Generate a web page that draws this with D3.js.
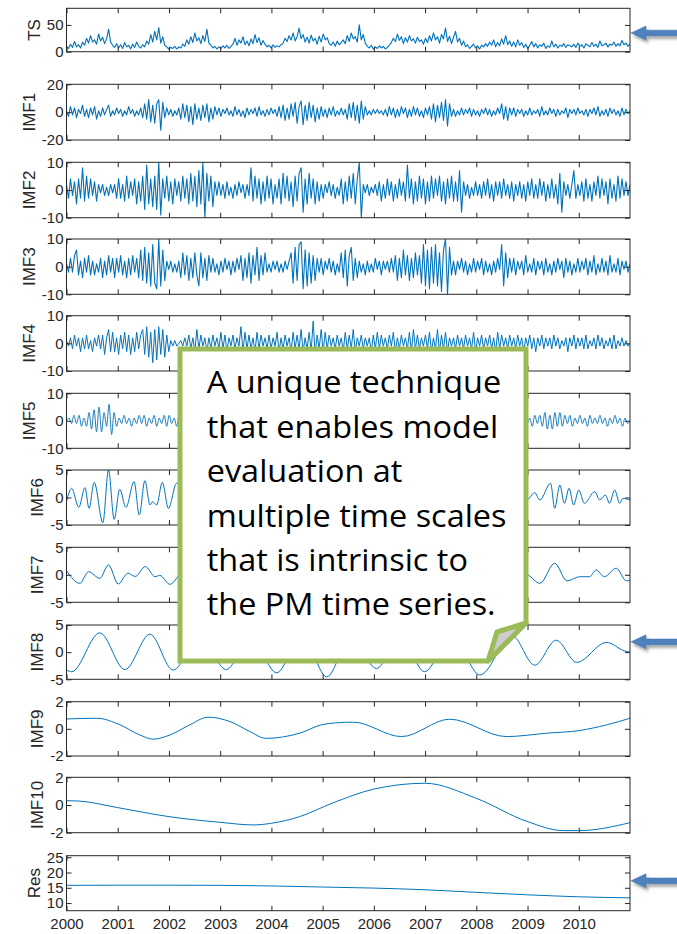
<!DOCTYPE html>
<html>
<head>
<meta charset="utf-8">
<script src="https://cdn.jsdelivr.net/npm/d3@7"></script>
<style>
  body { margin: 0; background: #fff; }
  svg { display: block; }
  .panel-label { font-family: "Liberation Sans", Arial, sans-serif; font-size: 17px; fill: #262626; }
  .tick text { font-family: "Liberation Sans", Arial, sans-serif; font-size: 15px; fill: #262626; }
  .frame { fill: none; stroke: #262626; stroke-width: 1; }
  .series { fill: none; stroke: #0072bd; stroke-linejoin: round; }
  .callout-text { font-family: "Open Sans", Lato, sans-serif; font-weight: 400; font-size: 31px; fill: #000; }
</style>
</head>
<body>
<svg width="677" height="934"></svg>
<script>
// time axis
var xDomain = [2000, 2011];
var yearTicks = [2000, 2001, 2002, 2003, 2004, 2005, 2006, 2007, 2008, 2009, 2010];

// y ranges and tick labels of each panel
var tsDomain = [0, 81], tsTicks = [0, 50];
var imf1Domain = [-20, 20], imf1Ticks = [-20, 0, 20];
var imf2Domain = [-10, 10], imf2Ticks = [-10, 0, 10];
var imf3Domain = [-10, 10], imf3Ticks = [-10, 0, 10];
var imf4Domain = [-10, 10], imf4Ticks = [-10, 0, 10];
var imf5Domain = [-10, 10], imf5Ticks = [-10, 0, 10];
var imf6Domain = [-5, 5], imf6Ticks = [-5, 0, 5];
var imf7Domain = [-5, 5], imf7Ticks = [-5, 0, 5];
var imf8Domain = [-5, 5], imf8Ticks = [-5, 0, 5];
var imf9Domain = [-2, 2], imf9Ticks = [-2, 0, 2];
var imf10Domain = [-2, 2], imf10Ticks = [-2, 0, 2];
var resDomain = [7.5, 25.5], resTicks = [10, 15, 20, 25];

var tsValues = [
  10,6,14,8,19,9,13,7,18,12,25,16,30,18,22,14,33,20,27,15,
  24,42,18,12,8,15,7,13,6,17,9,12,5,14,8,18,10,7,13,9,
  20,14,32,18,38,22,45,16,28,12,9,5,8,6,10,5,9,7,14,10,
  22,14,28,17,35,20,26,15,30,19,42,16,12,7,10,5,9,6,11,7,
  12,6,10,14,25,12,22,16,28,13,20,11,24,15,32,17,26,12,21,14,
  9,12,7,13,8,11,9,13,16,25,19,30,22,35,20,28,44,24,32,18,
  27,16,31,20,25,14,29,18,33,22,26,15,12,18,10,20,13,17,22,15,
  30,19,35,24,28,18,50,22,32,16,10,7,12,5,9,6,11,7,10,5,
  8,12,17,25,19,33,21,28,15,26,18,30,20,24,16,27,19,22,14,25,
  17,30,20,35,22,28,16,32,24,44,19,29,15,27,38,18,25,12,20,9,
  13,6,10,14,7,11,5,12,9,15,10,18,12,22,9,17,11,24,14,30,
  13,20,10,18,9,22,12,17,8,14,6,12,19,9,15,7,13,10,16,6,
  11,8,20,9,14,7,12,10,15,8,13,11,9,14,8,16,10,13,7,15,
  12,9,17,10,14,8,20,11,13,16,9,14,12,18,10,15,11,21,13,16,
  10,14
];
var imf1Values = [
  1,-3,4,-2,3,-4,2,-1,5,-3,2,-4,3,-2,4,-5,1,-3,3,-2,
  2,5,-3,1,-2,3,-1,2,-3,1,-2,4,-1,2,-3,1,-2,3,-4,6,
  -5,9,-7,5,-8,6,9,-13,7,-4,3,-2,2,-3,1,-2,3,-5,6,-4,
  5,-7,4,-9,6,-5,3,-6,5,-4,6,-7,3,-5,4,-2,3,-3,2,-1,
  3,-2,1,-3,4,-2,2,-3,1,-4,3,-2,2,-1,3,-3,4,-2,1,-3,
  2,-2,3,-1,2,-3,4,-4,5,-6,3,-5,6,-3,7,-8,4,8,-9,5,
  -6,7,-4,5,-7,3,-5,4,-3,2,-4,3,-2,4,-3,1,-2,3,-2,2,
  -5,6,-4,7,-6,5,-8,8,-5,4,-2,1,-2,2,-1,2,-1,1,-2,2,
  -3,4,-2,3,-4,2,-3,4,-1,3,-4,2,-3,4,-2,3,-3,1,-4,3,
  -2,4,-5,6,-7,5,-4,7,-6,9,-10,6,-3,2,-3,1,-2,3,-2,2,
  -1,3,-3,2,-2,1,-3,2,-1,3,-2,2,-3,1,-2,3,-1,6,-5,4,
  -6,3,-2,3,-3,2,-1,2,-3,1,-2,3,-2,1,-1,2,-3,4,-2,1,
  -2,3,-1,2,-3,2,-2,1,-1,3,-4,2,-1,2,-2,3,-1,1,-2,2,
  -3,2,-1,3,-2,4,-3,1,-2,2,-3,3,-1,2,-2,1,-3,3,-2,2,
  -1,1
];
var imf2Values = [
  2,-3,4,-2,3,-5,4,-3,8,-4,5,-3,4,-2,3,-4,2,-1,2,-2,
  1,-2,2,-1,2,-3,4,-3,2,-4,5,-3,3,-2,4,-5,3,-4,5,-7,
  9,-5,4,-6,5,-7,10,-9,4,-3,5,-4,3,-5,4,-2,3,-4,5,-3,
  4,-5,6,-4,5,-6,7,-5,10,-10,6,-4,5,-6,3,-2,3,-2,2,-3,
  3,-2,1,-3,2,-2,3,-1,2,-3,2,-2,8,-4,5,-3,4,-5,3,-4,
  5,-3,4,-5,2,-3,4,-5,6,-3,5,-4,3,-6,5,-4,6,8,-8,4,
  -5,6,-3,4,-5,3,-4,2,-3,2,-1,3,-2,2,-3,1,-2,4,-5,3,
  -4,5,-3,6,-5,4,10,-10,2,-1,2,-2,1,-1,2,-2,3,-4,2,-3,
  4,-2,3,-4,2,-3,4,-2,3,-4,9,-3,4,-5,3,-4,5,-3,4,-5,
  3,-4,5,-3,4,-2,5,-4,3,-5,4,-3,5,-4,3,-4,7,-8,3,-2,
  2,-3,1,-2,3,-2,2,-3,3,-2,4,-3,2,-4,3,-2,3,-3,4,-2,
  2,-3,3,-4,2,-2,3,-3,2,-4,3,-2,4,-3,2,-3,4,-2,3,-4,
  2,-3,4,-3,2,-5,6,-8,3,-2,2,-3,2,7,-3,2,-2,3,-4,4,
  -3,2,-4,3,-2,5,-3,4,-2,3,-5,4,-3,2,-4,5,-3,4,-2,3,
  -2,2
];
var imf3Values = [
  1,-2,3,-2,4,6,-3,2,-4,3,-2,4,-3,2,-3,1,-2,3,-4,2,
  -3,4,-2,3,-4,3,-2,4,-3,2,-4,3,-3,4,-2,3,-4,6,-5,7,
  -6,5,-7,8,-6,-8,10,-7,6,-5,2,-1,2,-2,1,-2,2,-4,5,-3,
  4,-5,3,-4,5,-3,-7,5,-4,3,-5,4,-2,3,-2,1,-3,2,-2,3,
  -1,2,-3,2,-2,3,-1,4,-5,3,-4,5,-6,4,-3,7,-5,4,-3,5,
  -2,1,-2,2,-1,2,-2,1,-2,2,-1,2,5,-6,7,-5,8,9,-8,6,
  -7,5,-6,4,-5,3,-2,3,-3,2,-1,3,-2,2,-3,1,-2,5,-4,6,
  -7,4,7,-5,3,-4,2,-2,1,-3,2,-2,1,-2,3,-1,2,-3,2,-1,
  2,-2,3,-2,4,-5,3,-4,6,-3,4,-5,3,-4,5,-3,4,-6,8,-7,
  6,-8,7,-6,8,-7,5,-9,6,10,-10,7,-3,2,-3,2,-1,3,-2,2,
  -3,1,-2,3,-2,2,-1,3,-3,2,-2,1,-3,2,-2,3,-1,8,-7,5,
  -4,3,-2,3,-3,2,-1,2,-3,4,-2,1,-2,3,-3,2,-1,2,-3,3,
  -2,1,-3,2,-2,3,-1,2,-4,3,-2,2,-3,1,-2,3,-2,2,-1,3,
  -3,2,-2,4,-3,1,-2,3,-2,2,-3,4,-2,1,-2,3,-3,2,-1,2,
  -2,1
];
var imf4Values = [
  1,-1,2,-2,3,-1,2,-3,2,-2,3,-2,1,-3,2,-1,3,-2,3,-4,
  2,5,-3,4,-3,2,-4,3,-2,4,-3,3,-4,2,-3,4,-2,3,5,-4,
  6,-5,4,-7,5,-6,6,-4,5,-5,3,-3,1,-1,1,-1,0,1,-1,2,
  -1,3,-2,2,-3,5,-2,3,-1,2,-3,2,-2,3,-1,2,-2,4,-2,3,
  -3,2,-1,3,-2,2,-1,6,-3,4,-2,3,-2,2,-3,4,-2,3,-1,2,
  -2,3,-2,2,-1,4,-3,2,-2,3,-1,2,-3,4,-2,3,-2,5,-3,2,
  -2,4,-3,8,-4,3,-2,5,-3,4,-2,3,-1,2,-2,3,-1,2,-3,4,
  -2,3,-2,5,-3,2,-1,3,-2,2,-1,2,-3,3,-2,4,-2,3,-1,2,
  -2,3,-1,4,-3,2,-2,3,-1,2,-2,4,-3,5,-2,3,-2,2,-1,3,
  -2,4,-3,2,-2,5,-3,3,-2,4,-3,2,-1,2,-2,3,-1,2,-2,3,
  -1,2,-2,4,-3,2,-1,3,-2,2,-1,3,-2,2,-3,4,-2,3,-1,2,
  -2,3,-1,2,-2,3,-1,2,-3,2,-1,3,-2,2,-3,2,-1,3,-2,2,
  -1,2,-2,3,-1,2,-2,1,-1,2,-3,2,-1,3,-2,2,-1,2,-2,3,
  -2,1,-1,2,-2,3,-1,2,-2,1,-1,2,-2,3,-2,1,-1,2,-1,1,
  -1,0
];
var imf5Values = [
  0,1,-1,2,-1,2,-2,1,-2,3,-3,4,-4,5,-4,3,-2,6,-5,3,
  -2,1,-1,2,-1,1,-2,1,-1,2,-1,2,-2,1,-1,2,-2,1,-1,2,
  -2,2,-1,1,-2,2,-1,2,-2,1,-1,2,-2,1,-2,2,-1,2,-2,1,
  -1,2,-2,1,-1,2,-2,3,-2,1,-1,2,-2,1,-2,2,-1,2,-2,1,
  -1,2,-2,3,-2,2,-1,2,-2,1,-1,2,-2,1,-2,2,-1,2,-2,1,
  -1,2,-2,1,-1,2,-2,3,-2,1,-1,2,-2,1,-2,2,-1,2,-2,1,
  -1,2,-2,1,-1,2,-2,3,-2,1,-1,2,-2,1,-2,2,-1,2,-2,1,
  -1,2,-2,1,-1,2,-2,3,-2,1,-1,2,-2,1,-2,2,-1,2,-2,1,
  -1,2,-2,1,-1,2,-2,3,-2,1,-1,2,-2,1,-2,2,-1,2,-2,1,
  -1,1,-1,2,-1,1,-2,2,-1,2,-2,3,-3,2,-3,3,-2,3,-2,2,
  -1,2,-2,1,-1,2,-1,1,-2,2,-1,1,-1,2,-1,1,-2,1,-1,2,
  -1,1,-2,1,-1,0
];

// turning points (year, value) of the slower modes
var imf6Years = [2000.00,2000.10,2000.24,2000.36,2000.44,2000.54,2000.71,2000.82,2000.93,2001.04,2001.16,2001.32,2001.42,2001.53,2001.63,2001.68,2001.76,2001.87,2001.99,
  2002.15,2002.4,2002.65,2002.9,2003.15,2003.4,2003.65,2003.9,2004.15,2004.4,2004.65,2004.9,2005.15,2005.4,2005.65,2005.9,2006.15,2006.4,2006.65,2006.9,2007.15,2007.4,2007.65,2007.9,2008.15,2008.4,2008.65,2008.9,
  2009.03,2009.14,2009.24,2009.45,2009.53,2009.63,2009.72,2009.81,2009.90,2010.00,2010.11,2010.31,2010.41,2010.52,2010.60,2010.70,2010.80,2010.86,2011.00];
var imf6Values = [-0.76,1.67,-1.79,1.79,-1.97,2.76,-4.58,5.0,-3.97,1.5,-1.8,2.88,-3.18,3.06,-1.36,-0.76,-1.36,2.76,-1.97,
  2.6,-2.0,1.8,-2.2,2.4,-1.6,1.9,-2.3,2.1,-1.8,2.5,-2.0,1.7,-2.4,2.2,-1.9,2.6,-2.1,1.8,-2.5,2.3,-1.7,2.0,-2.2,1.9,-1.8,2.1,-1.2,
  -0.15,0.87,-0.45,2.58,-1.97,2.27,-1.06,1.67,-1.36,1.36,-1.06,1.06,-0.45,0.45,-1.06,1.36,-1.06,-0.15,-0.45];

var imf7Years = [2000.00,2000.26,2000.43,2000.65,2000.82,2001.01,2001.2,2001.34,2001.54,2001.73,2001.82,2002.02,
  2002.3,2002.6,2002.9,2003.2,2003.5,2003.8,2004.1,2004.4,2004.7,2005.0,2005.3,2005.6,2005.9,2006.2,2006.5,2006.8,2007.1,2007.4,2007.7,2008.0,2008.3,2008.6,2008.85,
  2009.01,2009.24,2009.53,2009.77,2010.02,2010.21,2010.34,2010.5,2010.73,2010.93,2011.0];
var imf7Values = [0.75,-1.55,0.57,-0.64,1.78,-1.67,0.3,-0.3,1.5,-0.35,-0.1,-1.73,
  0.8,-1.2,1.0,-1.4,0.9,-1.1,1.3,-0.9,1.0,-1.3,0.8,-1.0,1.2,-1.1,0.9,-1.2,1.1,-0.9,1.0,-1.3,0.9,-1.0,0.6,
  0,-1.55,2.1,-1.1,-0.35,-0.35,0.87,-0.35,1.2,-1.1,-1.0];

var imf8Years = [2000.0,2000.10,2000.65,2001.14,2001.63,2002.08,2002.6,2003.12,2003.6,2004.10,2004.6,2005.08,2005.56,2006.05,2006.52,2006.99,2007.52,2008.07,2008.7,2009.14,2009.56,2009.96,2010.54,2010.9,2011.0];
var imf8Values = [-3.3,-3.6,3.55,-3.2,3.3,-3.3,3.0,-3.2,3.0,-3.8,3.2,-4.55,3.0,-3.0,3.1,-3.6,3.2,-4.2,3.0,-2.4,2.2,-1.9,1.8,0.2,0.0];

var imf9Years = [2000.0,2000.6,2001.04,2001.43,2001.69,2002.02,2002.41,2002.76,2003.19,2003.58,2003.89,2004.55,2004.98,2005.25,2005.6,2006.54,2007.48,2008.59,2009.37,2010.02,2010.54,2011.0];
var imf9Values = [0.73,0.78,0.3,-0.45,-0.76,-0.45,0.3,0.86,0.54,-0.2,-0.7,-0.32,0.3,0.44,0.49,-0.57,0.71,-0.57,-0.32,-0.12,0.29,0.78];

var imf10Years = [2000.0,2000.26,2001.0,2002.0,2003.0,2003.65,2004.0,2004.55,2005.2,2006.0,2007.0,2008.0,2009.0,2009.7,2010.0,2011.0];
var imf10Values = [0.31,0.28,-0.19,-0.84,-1.25,-1.44,-1.32,-0.84,0.15,1.15,1.57,0.48,-1.2,-1.85,-1.85,-1.28];

var resYears = [2000,2001,2002,2003,2004,2005,2006,2007,2008,2009,2010,2011];
var resValues = [15.8,15.85,15.85,15.8,15.6,15.25,14.9,14.35,13.5,12.7,12.05,11.7];

var calloutLines = ['A unique technique', 'that enables model', 'evaluation at',
  'multiple time scales', 'that is intrinsic to', 'the PM time series.'];

// layout
var plotLeft = 66.5;
var plotRight = 630;
var panelTops = [8.3, 84.3, 162.3, 239, 315.7, 393.3, 470, 547.3, 625, 701.7, 777.3, 855.7];
var panelBottoms = [51.7, 140, 217.7, 294.3, 371, 448.3, 525, 602.3, 679.3, 756, 832.7, 910.7];
var tickLen = 5;

var svg = d3.select('svg');
var defs = svg.append('defs');

var panels = [
  {label: 'TS', values: tsValues, domain: tsDomain, ticks: tsTicks, width: 1.1},
  {label: 'IMF1', values: imf1Values, domain: imf1Domain, ticks: imf1Ticks, width: 1.1},
  {label: 'IMF2', values: imf2Values, domain: imf2Domain, ticks: imf2Ticks, width: 1.1},
  {label: 'IMF3', values: imf3Values, domain: imf3Domain, ticks: imf3Ticks, width: 1.1},
  {label: 'IMF4', values: imf4Values, domain: imf4Domain, ticks: imf4Ticks, width: 1},
  {label: 'IMF5', values: imf5Values, domain: imf5Domain, ticks: imf5Ticks, width: 0.9, smooth: true},
  {label: 'IMF6', years: imf6Years, values: imf6Values, domain: imf6Domain, ticks: imf6Ticks, width: 1, smooth: true},
  {label: 'IMF7', years: imf7Years, values: imf7Values, domain: imf7Domain, ticks: imf7Ticks, width: 1, smooth: true},
  {label: 'IMF8', years: imf8Years, values: imf8Values, domain: imf8Domain, ticks: imf8Ticks, width: 1, smooth: true},
  {label: 'IMF9', years: imf9Years, values: imf9Values, domain: imf9Domain, ticks: imf9Ticks, width: 1, smooth: true},
  {label: 'IMF10', years: imf10Years, values: imf10Values, domain: imf10Domain, ticks: imf10Ticks, width: 1, smooth: true},
  {label: 'Res', years: resYears, values: resValues, domain: resDomain, ticks: resTicks, width: 1, smooth: true}
];

// plain hyphen for negatives, like the original
var plainFormat = function(d) { return String(d); };

var scaleX = d3.scaleLinear()
  .domain(xDomain)
  .range([plotLeft, plotRight]);

var panelScales = [];

panels.forEach(function(p, k) {
  var top = panelTops[k];
  var bottom = panelBottoms[k];
  var scaleY = d3.scaleLinear()
    .domain(p.domain)
    .range([bottom, top]);
  panelScales.push(scaleY);

  var n = p.values.length;
  var points = p.values.map(function(v, i) {
    var t = p.years ? p.years[i] : xDomain[0] + (xDomain[1] - xDomain[0]) * i / (n - 1);
    return [t, v];
  });

  defs.append('clipPath')
    .attr('id', 'clip' + k)
    .append('rect')
    .attr('x', plotLeft)
    .attr('y', top)
    .attr('width', plotRight - plotLeft)
    .attr('height', bottom - top);

  var g = svg.append('g').attr('class', 'panel');

  var line = d3.line()
    .x(function(d) { return scaleX(d[0]); })
    .y(function(d) { return scaleY(d[1]); })
    .curve(p.smooth ? d3.curveMonotoneX : d3.curveLinear);

  g.append('path')
    .datum(points)
    .attr('class', 'series')
    .attr('clip-path', 'url(#clip' + k + ')')
    .attr('stroke-width', p.width)
    .attr('d', line);

  g.append('rect')
    .attr('class', 'frame')
    .attr('x', plotLeft)
    .attr('y', top)
    .attr('width', plotRight - plotLeft)
    .attr('height', bottom - top);

  // inward ticks on all four sides
  var yAxisG = g.append('g')
    .attr('transform', 'translate(' + plotLeft + ',0)')
    .call(d3.axisLeft(scaleY).tickValues(p.ticks).tickFormat(plainFormat)
      .tickSizeInner(-tickLen).tickSizeOuter(0).tickPadding(3));
  g.append('g')
    .attr('transform', 'translate(' + plotRight + ',0)')
    .call(d3.axisRight(scaleY).tickValues(p.ticks).tickSizeInner(-tickLen).tickSizeOuter(0))
    .selectAll('text').remove();
  g.append('g')
    .attr('transform', 'translate(0,' + top + ')')
    .call(d3.axisTop(scaleX).tickValues(yearTicks).tickSizeInner(-tickLen).tickSizeOuter(0))
    .selectAll('text').remove();
  var xAxisG = g.append('g')
    .attr('transform', 'translate(0,' + bottom + ')')
    .call(d3.axisBottom(scaleX).tickValues(yearTicks).tickFormat(plainFormat)
      .tickSizeInner(-tickLen).tickSizeOuter(0).tickPadding(8));
  if (k < panels.length - 1) xAxisG.selectAll('text').remove();

  g.selectAll('.domain').remove();
  g.selectAll('.tick line').attr('stroke', '#262626');

  var maxW = 0;
  yAxisG.selectAll('text').each(function() {
    maxW = Math.max(maxW, this.getComputedTextLength());
  });
  var labelX = plotLeft - 3 - maxW - 7;
  g.append('text')
    .attr('class', 'panel-label')
    .attr('text-anchor', 'middle')
    .attr('transform', 'translate(' + labelX + ',' + ((top + bottom) / 2) + ') rotate(-90)')
    .text(p.label);
});

// arrows pointing at TS, IMF8 and Res
var arrowMarks = [
  {panel: 0, value: 35},
  {panel: 8, value: 1.9},
  {panel: 11, value: 17.3}
];

var shadow = defs.append('filter')
  .attr('id', 'shadow')
  .attr('x', '-20%').attr('y', '-60%')
  .attr('width', '150%').attr('height', '260%');
shadow.append('feDropShadow')
  .attr('dx', 2).attr('dy', 3)
  .attr('stdDeviation', 1.6)
  .attr('flood-color', '#000')
  .attr('flood-opacity', 0.35);

svg.selectAll('.arrow')
  .data(arrowMarks)
  .enter().append('path')
  .attr('class', 'arrow')
  .attr('fill', '#4f81bd')
  .attr('stroke', '#3f6fa8')
  .attr('stroke-width', 0.5)
  .attr('filter', 'url(#shadow)')
  .attr('d', function(d) {
    var cy = panelScales[d.panel](d.value);
    var tip = 631, back = 646, end = 680;
    return 'M' + tip + ',' + cy +
      'L' + back + ',' + (cy - 7) +
      'L' + back + ',' + (cy - 2.8) +
      'L' + end + ',' + (cy - 2.8) +
      'L' + end + ',' + (cy + 2.8) +
      'L' + back + ',' + (cy + 2.8) +
      'L' + back + ',' + (cy + 7) + 'Z';
  });

// callout box
var callout = svg.append('g').attr('class', 'callout');
callout.append('path')
  .attr('d', 'M180,349 L526,349 L526,623 L488,661 L180,661 Z')
  .attr('fill', '#fff')
  .attr('stroke', '#9bbb59')
  .attr('stroke-width', 5)
  .attr('stroke-linejoin', 'miter');
callout.append('path')
  .attr('d', 'M526,623 L497,632 L488,661 Z')
  .attr('fill', '#cdcdcd')
  .attr('stroke', '#9bbb59')
  .attr('stroke-width', 5)
  .attr('stroke-linejoin', 'round');

var textG = callout.append('g');
textG.selectAll('text')
  .data(calloutLines)
  .enter().append('text')
  .attr('class', 'callout-text')
  .attr('x', 0)
  .attr('y', function(d, i) { return 393.5 + i * 44.4; })
  .text(function(d) { return d; });

var widest = 0;
textG.selectAll('text').each(function() {
  widest = Math.max(widest, this.getComputedTextLength());
});
textG.attr('transform', 'translate(206.7,0) scale(' + (300 / widest) + ',1)');
</script>
</body>
</html>
